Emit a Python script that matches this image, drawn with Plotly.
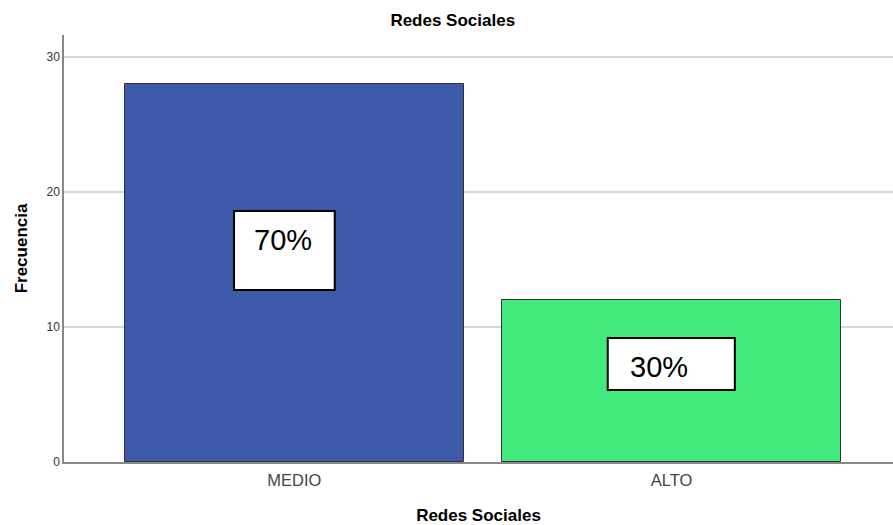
import plotly.graph_objects as go

categories = ["MEDIO", "ALTO"]
counts = [28, 12]
colors = ["#3d5aa8", "#42ea7e"]
y_ticks = [0, 10, 20, 30]

total = sum(counts)
pct_labels = [f"{round(c / total * 100)}%" for c in counts]

FONT = "Arial, Liberation Sans, sans-serif"

fig = go.Figure()
fig.add_trace(go.Bar(
    x=[0, 1], y=counts, width=0.9,
    marker=dict(color=colors, line=dict(color="#333333", width=1)),
    hoverinfo="skip", showlegend=False,
))

# label boxes (position/style)
boxes = [
    dict(x0=-0.160, x1=0.107, y0=12.74, y1=18.59, tx=-0.029, ty=16.45),
    dict(x0=0.831, x1=1.168, y0=5.33, y1=9.19, tx=0.967, ty=7.05),
]
for b, lab in zip(boxes, pct_labels):
    fig.add_shape(type="rect", xref="x", yref="y", x0=b["x0"], x1=b["x1"],
                  y0=b["y0"], y1=b["y1"], fillcolor="white",
                  line=dict(color="black", width=2), layer="above")
    fig.add_annotation(x=b["tx"], y=b["ty"], xref="x", yref="y", text=lab,
                       showarrow=False, font=dict(size=29, color="black", family=FONT))

fig.update_layout(
    width=893, height=525,
    margin=dict(l=64, r=0, t=35, b=63),
    paper_bgcolor="white", plot_bgcolor="white",
    font=dict(family=FONT, color="#222222"),
    title=dict(text="<b>Redes Sociales</b>", x=0.507, xanchor="center",
               y=0.962, yanchor="middle", font=dict(size=17, color="#000000")),
    xaxis=dict(
        range=[-0.611, 1.5875], tickmode="array", tickvals=[0, 1],
        ticktext=categories, showgrid=False, zeroline=False,
        showline=True, linecolor="#888888", linewidth=1.5,
        tickfont=dict(size=16.5, color="#444444"), ticks="",
        ticklabelstandoff=2,
        title=dict(text="<b>Redes Sociales</b>", font=dict(size=17, color="#000000"),
                   standoff=22),
    ),
    yaxis=dict(
        range=[0, 31.63], tickmode="array", tickvals=y_ticks,
        showgrid=True, gridcolor="#d6d6d6", gridwidth=1.5, zeroline=False,
        showline=True, linecolor="#888888", linewidth=1.5,
        tickfont=dict(size=12, color="#333333"), ticks="",
        title=dict(text="<b>Frecuencia</b>", font=dict(size=17, color="#000000"),
                   standoff=15),
    ),
    bargap=0,
)

fig.write_html("out.html")
